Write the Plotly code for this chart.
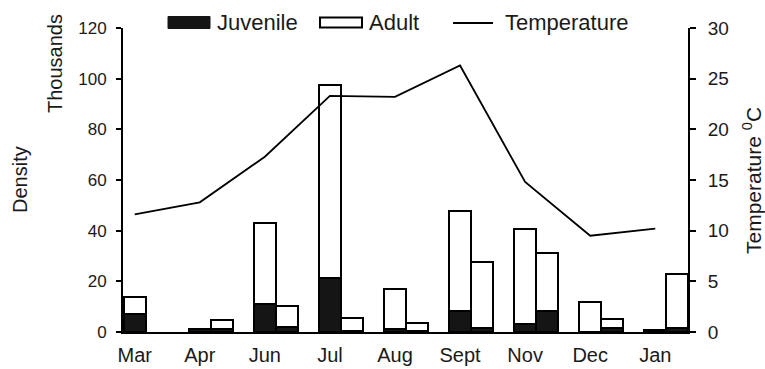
import plotly.graph_objects as go

# Sampling months
months = ["Mar", "Apr", "Jun", "Jul", "Aug", "Sept", "Nov", "Dec", "Jan"]

# Density (thousands), first sample of each month
juvenile_a = [7.0, 1.0, 10.9, 21.2, 1.0, 8.3, 3.0, 0.0, 0.6]
adult_a = [6.8, 0.0, 32.3, 76.2, 16.0, 39.5, 37.7, 11.8, 0.0]

# Density (thousands), second sample of each month
juvenile_b = [0.0, 1.0, 2.0, 0.3, 0.3, 1.7, 8.2, 1.6, 1.5]
adult_b = [0.0, 3.6, 8.1, 5.4, 3.3, 25.9, 23.1, 3.5, 21.2]

# Water temperature (deg C)
temperature = [11.6, 12.8, 17.3, 23.3, 23.2, 26.3, 14.8, 9.5, 10.2]

FONT = "Liberation Sans, Arial, Helvetica, sans-serif"
TEXT = "#1a1a1a"
BAR_W = 0.3385
JUV_COLOR = "#151515"

pos_a = list(range(len(months)))
pos_b = [p + BAR_W for p in pos_a]

fig = go.Figure()


def nonzero(vals):
    # empty samples get no bar (and so no outline) at all
    return [v if v > 0 else None for v in vals]


def add_stack(xs, juv, adu):
    fig.add_trace(go.Bar(
        x=xs, y=nonzero(juv), base=[0] * len(juv), width=BAR_W,
        marker=dict(color=JUV_COLOR, line=dict(color="black", width=2)),
        showlegend=False, hoverinfo="skip"))
    fig.add_trace(go.Bar(
        x=xs, y=nonzero(adu), base=juv, width=BAR_W,
        marker=dict(color="white", line=dict(color="black", width=2)),
        showlegend=False, hoverinfo="skip"))


add_stack(pos_a, juvenile_a, adult_a)
add_stack(pos_b, juvenile_b, adult_b)

fig.add_trace(go.Scatter(
    x=pos_a, y=temperature, yaxis="y2", mode="lines",
    line=dict(color="black", width=1.8), showlegend=False, hoverinfo="skip"))

# Plot area in pixels: x 123..688, y 28..332
PX0, PX1, PY0, PY1 = 123, 688, 28, 332


def px_x(v):
    return (v - PX0) / (PX1 - PX0)


def px_y(v):
    return (PY1 - v) / (PY1 - PY0)


# Hand-drawn legend along the top
legend_shapes = [
    dict(type="rect", xref="paper", yref="paper",
         x0=px_x(168), x1=px_x(210), y0=px_y(28.5), y1=px_y(16.5),
         fillcolor=JUV_COLOR, line=dict(color=JUV_COLOR, width=1)),
    dict(type="rect", xref="paper", yref="paper",
         x0=px_x(320), x1=px_x(362), y0=px_y(27.5), y1=px_y(17.5),
         fillcolor="white", line=dict(color="black", width=2)),
    dict(type="line", xref="paper", yref="paper",
         x0=px_x(453), x1=px_x(493), y0=px_y(23), y1=px_y(23),
         line=dict(color="black", width=1.8)),
]

annotations = [
    dict(text="Juvenile", x=px_x(215), y=px_y(22), xanchor="left", yanchor="middle", size=22),
    dict(text="Adult", x=px_x(367), y=px_y(22), xanchor="left", yanchor="middle", size=22),
    dict(text="Temperature", x=px_x(503), y=px_y(22), xanchor="left", yanchor="middle", size=22),
    dict(text="Density", x=px_x(20), y=px_y(180), textangle=-90,
         xanchor="center", yanchor="middle", size=20),
    dict(text="Thousands", x=px_x(55), y=px_y(64), textangle=-90,
         xanchor="center", yanchor="middle", size=20),
    dict(text="Temperature <sup>0</sup>C", x=px_x(752), y=px_y(181), textangle=-90,
         xanchor="center", yanchor="middle", size=21),
]
for a in annotations:
    size = a.pop("size")
    a.update(xref="paper", yref="paper", showarrow=False,
             font=dict(family=FONT, size=size, color=TEXT))

fig.update_layout(
    width=765, height=369,
    margin=dict(l=PX0, r=765 - PX1, t=PY0, b=369 - PY1),
    paper_bgcolor="white", plot_bgcolor="white",
    barmode="overlay", bargap=0,
    font=dict(family=FONT, color=TEXT),
    shapes=legend_shapes,
    annotations=annotations,
    xaxis=dict(
        range=[-0.18, 8.503], tickvals=pos_a, ticktext=months,
        showline=True, linecolor="black", linewidth=2, automargin=False,
        ticks="", showgrid=False, zeroline=False, ticklabelstandoff=4,
        tickfont=dict(size=20, family=FONT, color=TEXT), fixedrange=True),
    yaxis=dict(
        range=[0, 120], dtick=20, showline=True, linecolor="black", linewidth=2,
        ticks="outside", ticklen=5, tickwidth=2, tickcolor="black", automargin=False,
        showgrid=False, zeroline=False, ticklabelstandoff=6,
        tickfont=dict(size=17, family=FONT, color=TEXT)),
    yaxis2=dict(
        range=[0, 30], dtick=5, overlaying="y", side="right",
        showline=True, linecolor="black", linewidth=2, automargin=False,
        ticks="outside", ticklen=6, tickwidth=2, tickcolor="black",
        showgrid=False, zeroline=False, ticklabelstandoff=8,
        tickfont=dict(size=19, family=FONT, color=TEXT)),
)

fig.write_html("out.html")
